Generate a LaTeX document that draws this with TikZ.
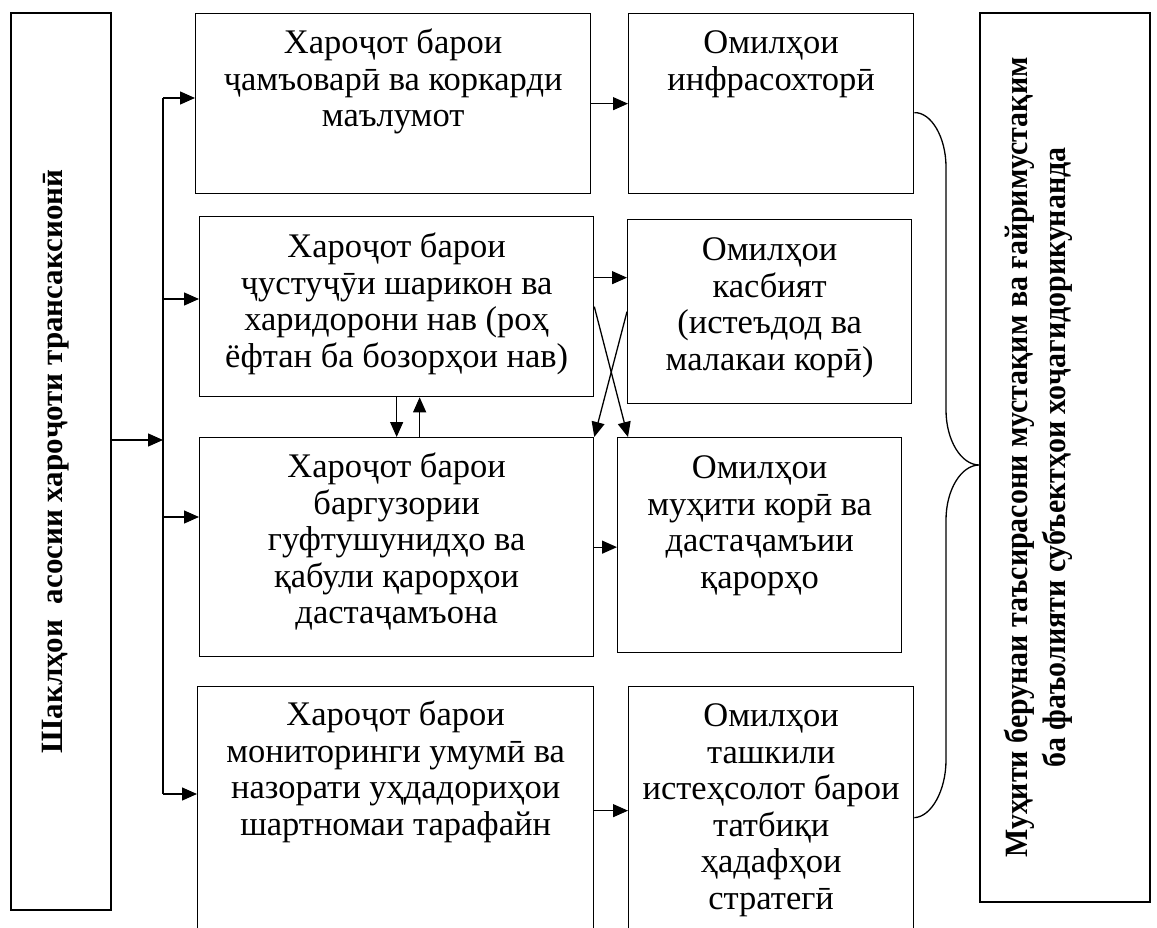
\documentclass[tikz,border=0pt]{standalone}
\usepackage{fontspec}
\setmainfont{Liberation Serif}
\newfontfamily\narrowserif[FakeStretch=0.92]{Liberation Serif}
\usetikzlibrary{arrows.meta}

% text of a block: width, height, depth of first baseline, lines
\newcommand{\boxtext}[4]{\parbox[t][#2][t]{#1}{\centering\rule{0pt}{#3}#4}}

\tikzset{
  blk/.style={draw, line width=1.3pt, inner sep=0pt, anchor=north west,
    font=\fontsize{34.5}{36.5}\selectfont},
  side/.style={draw, line width=1.3pt, inner sep=0pt, rotate=90,
    font=\bfseries\fontsize{31}{38}\selectfont},
  link/.style={line width=1.3pt},
  arr/.style={line width=1.3pt, -{Triangle[length=15pt,width=13pt]}}
}

\begin{document}
\begin{tikzpicture}[x=1pt,y=-1pt]
\clip (0,0) rectangle (1157,928);

% outer blocks (rotated: north is the left side, south the right side)
\node[side] (forms) at (61,461.5)
  {\boxtext{897pt}{100pt}{51pt}{Шаклҳои\ \ асосии хароҷоти трансаксионӣ}};
\node[side, font=\narrowserif\bfseries\fontsize{32.5}{38}\selectfont] (env) at (1065,457.5)
  {\boxtext{889pt}{170pt}{47pt}{Муҳити берунаи таъсирасони мустақим ва ғайримустақим\\
   ба фаъолияти субъектҳои хоҷагидорикунанда}};

% costs
\node[blk] (costA) at (195,13)
  {\boxtext{395pt}{180pt}{40pt}{Хароҷот барои\\ҷамъоварӣ ва коркарди\\маълумот}};
\node[blk] (costB) at (199,216)
  {\boxtext{394pt}{180pt}{41pt}{Хароҷот барои\\ҷустуҷӯи шарикон ва\\харидорони нав (роҳ\\ёфтан ба бозорҳои нав)}};
\node[blk] (costC) at (199,437)
  {\boxtext{394pt}{219pt}{40pt}{Хароҷот барои\\баргузории\\гуфтушунидҳо ва\\қабули қарорҳои\\дастаҷамъона}};
\node[blk] (costD) at (197,686)
  {\boxtext{396pt}{248pt}{39pt}{Хароҷот барои\\мониторинги умумӣ ва\\назорати уҳдадориҳои\\шартномаи тарафайн}};

% factors
\node[blk] (facE) at (628,13)
  {\boxtext{285pt}{180pt}{40pt}{Омилҳои\\инфрасохторӣ}};
\node[blk] (facF) at (627,219)
  {\boxtext{284pt}{184pt}{41pt}{Омилҳои\\касбият\\(истеъдод ва\\малакаи корӣ)}};
\node[blk] (facG) at (617,437)
  {\boxtext{284pt}{215pt}{41pt}{Омилҳои\\муҳити корӣ ва\\дастаҷамъии\\қарорҳо}};
\node[blk] (facH) at (628,686)
  {\boxtext{285pt}{248pt}{40pt}{Омилҳои\\ташкили\\истеҳсолот барои\\татбиқи\\ҳадафҳои\\стратегӣ}};

% bus from the left block
\coordinate (busA) at (163,98);
\coordinate (busB) at (163,299);
\coordinate (busIn) at (163,440);
\coordinate (busC) at (163,517);
\coordinate (busD) at (163,794);
\draw[link] (busA) -- (busD);
\draw[arr] (forms.south |- busIn) -- (busIn);
\draw[arr] (busA) -- (busA -| costA.west);
\draw[arr] (busB) -- (busB -| costB.west);
\draw[arr] (busC) -- (busC -| costC.west);
\draw[arr] (busD) -- (busD -| costD.west);

% costs to factors
\draw[arr] (costA.east) -- (facE.west);
\draw[arr] ([yshift=29pt]costB.east) -- ([yshift=29pt]costB.east -| facF.west);
\draw[arr] (costC.east) -- (costC.east -| facG.west);
\draw[arr] (costD.east) -- (costD.east -| facH.west);
\draw[arr] (costB.east) -- ([xshift=11pt]facG.north west);
\draw[arr] (facF.west) -- (costC.north east);
\draw[arr] (costB.south) -- (costC.north);
\draw[arr] ([xshift=23pt]costC.north) -- ([xshift=23pt]costB.south);

% brace towards the environment block
\coordinate (brTop) at ([yshift=-9pt]facE.east);
\coordinate (brEnd) at ([yshift=-7pt]facH.east);
\coordinate (brTip) at ([yshift=-7.5pt]env.north);
\draw[link] (brTop) .. controls (931,112) and (946,137) .. (946,167) -- (946,410)
  .. controls (946,440) and (961,465) .. (brTip)
  .. controls (961,465) and (946,490) .. (946,520) -- (946,760)
  .. controls (946,791) and (931,817) .. (brEnd);

\end{tikzpicture}
\end{document}
